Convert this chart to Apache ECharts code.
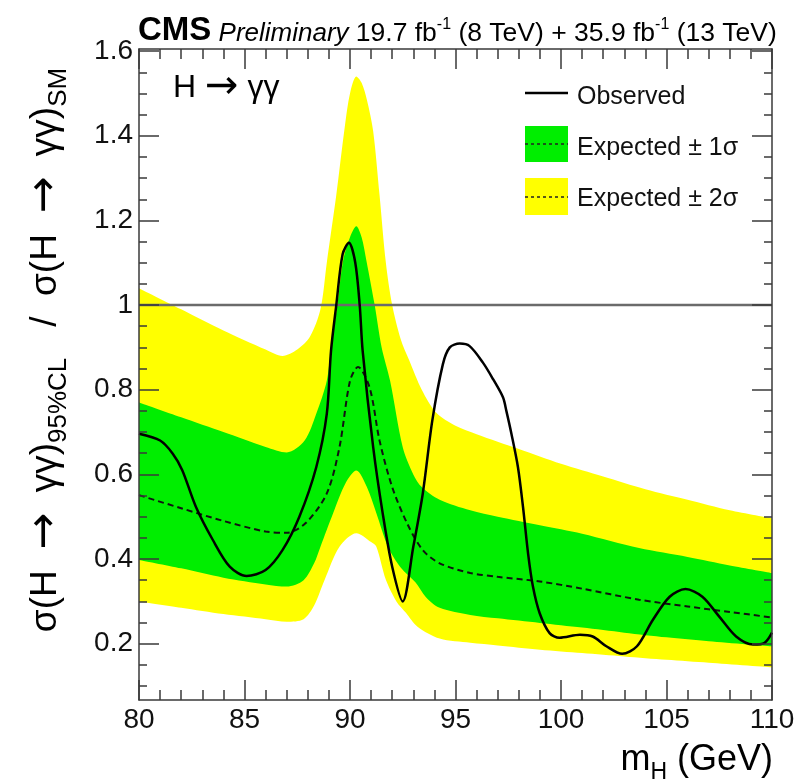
<!DOCTYPE html>
<html><head><meta charset="utf-8">
<script src="https://cdn.jsdelivr.net/npm/echarts@6/dist/echarts.min.js"></script>
<style>html,body{margin:0;padding:0;background:#fff}#c{width:798px;height:780px}</style>
</head><body><div id="c"></div>
<script>
// ---- tick labels ----
const xTickLabels = [80, 85, 90, 95, 100, 105, 110];
const yTickLabels = [0.2, 0.4, 0.6, 0.8, 1, 1.2, 1.4, 1.6];
const yMinorTickValues = [0.1, 0.15, 0.25, 0.3, 0.35, 0.45, 0.5, 0.55, 0.65, 0.7, 0.75, 0.85, 0.9, 0.95, 1.05, 1.1, 1.15, 1.25, 1.3, 1.35, 1.45, 1.5, 1.55];

// ---- observed limit ----
const obsMass = [80, 81, 81.6, 82.05, 82.7, 83.5, 84.3, 85.1, 86.0, 86.8, 87.6, 88.4, 88.9, 89.1, 89.35, 89.65, 89.95, 90.25, 90.46, 90.6, 91.1, 91.55, 92.0, 92.5, 93.0, 93.45, 93.9, 94.4, 94.73, 95.2, 95.67, 96.3, 96.78, 97.25, 97.41, 97.65, 97.96, 98.2, 98.44, 98.67, 98.99, 99.46, 99.93, 100.9, 101.5, 102.15, 102.9, 103.6, 104.35, 105.15, 105.9, 106.7, 107.5, 108.3, 109.1, 109.65, 110];
const obsLimit = [0.696, 0.68, 0.649, 0.61, 0.523, 0.445, 0.382, 0.36, 0.374, 0.421, 0.50, 0.617, 0.743, 0.892, 1.0, 1.12, 1.147, 1.10, 1.0, 0.892, 0.664, 0.508, 0.382, 0.30, 0.429, 0.555, 0.727, 0.86, 0.90, 0.909, 0.903, 0.864, 0.825, 0.782, 0.75, 0.696, 0.617, 0.523, 0.413, 0.335, 0.272, 0.225, 0.214, 0.221, 0.217, 0.194, 0.176, 0.194, 0.256, 0.311, 0.329, 0.311, 0.264, 0.217, 0.198, 0.202, 0.226];

// ---- expected (median) ----
const expMass = [80, 82, 84, 86, 87, 87.9, 88.9, 89.5, 90.0, 90.38, 90.93, 91.4, 92.0, 92.7, 93.45, 94.25, 95.7, 97, 99, 101, 103.7, 106, 108, 110];
const expLimit = [0.551, 0.52, 0.49, 0.465, 0.462, 0.485, 0.555, 0.664, 0.821, 0.854, 0.805, 0.68, 0.57, 0.485, 0.421, 0.39, 0.367, 0.358, 0.347, 0.33, 0.304, 0.288, 0.275, 0.262];

// ---- +2 sigma edge ----
const up2Mass = [80, 82, 84, 86, 86.8, 87.5, 88.1, 88.6, 88.9, 89.35, 89.75, 90.0, 90.3, 90.55, 90.8, 91.1, 91.4, 91.7, 92.0, 92.4, 92.8, 93.4, 94.1, 95, 96, 98, 100, 102, 104, 106, 108, 110];
const up2Vals = [1.04, 0.99, 0.94, 0.895, 0.88, 0.895, 0.925, 0.99, 1.10, 1.26, 1.42, 1.50, 1.54, 1.525, 1.485, 1.41, 1.26, 1.10, 1.0, 0.92, 0.87, 0.80, 0.745, 0.715, 0.695, 0.66, 0.625, 0.595, 0.565, 0.54, 0.515, 0.496];

// ---- +1 sigma edge ----
const up1Mass = [80, 82, 84, 86, 87, 87.85, 88.4, 88.9, 89.1, 89.4, 89.67, 90.0, 90.3, 90.55, 90.78, 91.17, 91.5, 91.9, 92.5, 93.0, 93.4, 94.25, 95.7, 97, 99, 101, 103.7, 106, 108, 110];
const up1Vals = [0.77, 0.735, 0.70, 0.665, 0.652, 0.68, 0.743, 0.821, 0.90, 1.0, 1.104, 1.16, 1.186, 1.16, 1.104, 1.0, 0.90, 0.821, 0.664, 0.60, 0.57, 0.54, 0.515, 0.50, 0.48, 0.46, 0.426, 0.405, 0.385, 0.367];

// ---- -1 sigma edge ----
const lo1Mass = [80, 82, 84, 86, 87, 87.8, 88.3, 88.6, 89.2, 89.8, 90.3, 90.8, 91.25, 91.8, 92.4, 93.1, 93.6, 94.25, 95.7, 97, 99, 101, 103, 105, 107, 110];
const lo1Vals = [0.398, 0.378, 0.356, 0.34, 0.335, 0.35, 0.39, 0.429, 0.508, 0.58, 0.609, 0.57, 0.508, 0.429, 0.38, 0.345, 0.31, 0.285, 0.268, 0.26, 0.249, 0.238, 0.226, 0.215, 0.206, 0.194];

// ---- -2 sigma edge ----
const lo2Mass = [80, 82, 84, 86, 87, 87.8, 88.3, 88.8, 89.5, 90.3, 91.0, 91.25, 91.7, 92.2, 92.65, 93.2, 94.25, 95.7, 97, 99, 101, 103, 105, 107, 110];
const lo2Vals = [0.30, 0.285, 0.27, 0.258, 0.252, 0.258, 0.29, 0.351, 0.429, 0.461, 0.44, 0.429, 0.351, 0.30, 0.273, 0.24, 0.212, 0.202, 0.196, 0.186, 0.178, 0.17, 0.162, 0.155, 0.144];

const refMass = [80, 110];
const refVals = [1, 1];

const zip = (a, b) => a.map((v, i) => [v, b[i]]);
const FONT = "'Liberation Sans', Arial, Helvetica, sans-serif";
const ARROWFONT = "'DejaVu Sans', sans-serif";
const YELLOW = '#ffff00';
const GREEN = '#00ee00';
const FRAME = '#3a3a3a';

const chart = echarts.init(document.getElementById('c'), null, {renderer: 'canvas'});

function xAx(pos, showLabel) {
  return {
    type: 'value', min: 80, max: 110, interval: 5, position: pos, z: 10,
    axisLine: {show: true, lineStyle: {color: FRAME, width: 1.5}},
    axisTick: {show: true, inside: true, length: 20, lineStyle: {color: FRAME, width: 1.5}},
    minorTick: {show: true, splitNumber: 5, length: 10, lineStyle: {color: FRAME, width: 1.5}},
    axisLabel: {show: showLabel, fontSize: 28, margin: 6, color: '#111', fontFamily: FONT},
    splitLine: {show: false}, minorSplitLine: {show: false}
  };
}
function yAx(pos, major, showLabel, showLine) {
  return {
    type: 'value', min: 0.067, max: 1.605, position: pos, offset: 0, z: 10,
    axisLine: {show: showLine, lineStyle: {color: FRAME, width: 1.5}},
    axisTick: {show: true, inside: true, length: major ? 20 : 8,
      customValues: major ? yTickLabels : yMinorTickValues,
      lineStyle: {color: FRAME, width: 1.5}},
    axisLabel: {show: showLabel, customValues: yTickLabels, fontSize: 28, margin: 6, color: '#111', fontFamily: FONT},
    splitLine: {show: false}
  };
}

function areaSeries(name, data, color) {
  return {
    name: name, type: 'line', data: data, smooth: 0.3, symbol: 'none', silent: true,
    lineStyle: {width: 0}, areaStyle: {color: color, opacity: 1, origin: 'start'},
    xAxisIndex: 0, yAxisIndex: 0
  };
}

const option = {
  animation: false,
  backgroundColor: '#fff',
  grid: {left: 139, right: 26, top: 49, bottom: 80, containLabel: false},
  xAxis: [xAx('bottom', true), xAx('top', false)],
  yAxis: [yAx('left', true, true, true), yAx('left', false, false, false),
          yAx('right', true, false, true), yAx('right', false, false, false)],
  series: [
    areaSeries('up2', zip(up2Mass, up2Vals), YELLOW),
    areaSeries('up1', zip(up1Mass, up1Vals), GREEN),
    areaSeries('lo1', zip(lo1Mass, lo1Vals), YELLOW),
    areaSeries('lo2', zip(lo2Mass, lo2Vals), '#ffffff'),
    {name: 'SM', type: 'line', data: zip(refMass, refVals), symbol: 'none',
     lineStyle: {color: '#6b6b6b', width: 2.5}},
    {name: 'Expected', type: 'line', data: zip(expMass, expLimit), smooth: 0.3, symbol: 'none',
     lineStyle: {color: '#111', width: 2, type: [6, 4]}},
    {name: 'Observed', type: 'line', data: zip(obsMass, obsLimit), smooth: 0.3, symbol: 'none',
     lineStyle: {color: '#000', width: 2.5}}
  ],
  graphic: [
    // header
    {type: 'text', x: 138, y: 47, z: 100, style: {
      text: '{cms|CMS} {pre|Preliminary} {n|19.7 fb}{sup|-1}{n| (8 TeV) + 35.9 fb}{sup|-1}{n| (13 TeV)}',
      fontFamily: FONT, fontSize: 26, verticalAlign: 'bottom', align: 'left', fill: '#000',
      rich: {
        cms: {fontFamily: FONT, fontSize: 33, fontWeight: 'bold', verticalAlign: 'bottom'},
        pre: {fontFamily: FONT, fontSize: 26, fontStyle: 'italic', verticalAlign: 'bottom'},
        n: {fontFamily: FONT, fontSize: 26.5, verticalAlign: 'bottom'},
        sup: {fontFamily: FONT, fontSize: 16, verticalAlign: 'bottom', padding: [0, 0, 14, 0]}
      }}},
    // H -> gamma gamma label
    {type: 'text', x: 173, y: 88, z: 100, style: {
      text: '{m|H }{a|→}{m| γγ}', fontFamily: FONT, fontSize: 32, fill: '#000', align: 'left', verticalAlign: 'middle',
      rich: {
        m: {fontFamily: FONT, fontSize: 32, lineHeight: 44, verticalAlign: 'middle'},
        a: {fontFamily: ARROWFONT, fontSize: 40, lineHeight: 44, verticalAlign: 'middle'}
      }}},
    // y axis title
    {type: 'text', x: 46, y: 350, rotation: Math.PI / 2, z: 100, style: {
      text: '{m|σ(H  }{a|→}{m|  γγ)}{s|95%CL}{m|   /  σ(H  }{a|→}{m|  γγ)}{s|SM}',
      fontFamily: FONT, fontSize: 37, align: 'center', verticalAlign: 'middle', fill: '#000',
      rich: {
        m: {fontFamily: FONT, fontSize: 37, lineHeight: 52, verticalAlign: 'middle'},
        a: {fontFamily: ARROWFONT, fontSize: 44, lineHeight: 52, verticalAlign: 'middle'},
        s: {fontFamily: FONT, fontSize: 26, verticalAlign: 'bottom'}
      }}},
    // x axis title
    {type: 'text', x: 773, y: 760, z: 100, style: {
      text: '{m|m}{s|H}{m| (GeV)}', fontFamily: FONT, fontSize: 36, align: 'right', verticalAlign: 'middle', fill: '#000',
      rich: {
        m: {fontFamily: FONT, fontSize: 36, lineHeight: 48, verticalAlign: 'middle'},
        s: {fontFamily: FONT, fontSize: 23, verticalAlign: 'bottom'}
      }}},
    // legend
    {type: 'line', z: 100, shape: {x1: 525, y1: 93, x2: 568, y2: 93}, style: {stroke: '#000', lineWidth: 2.5}},
    {type: 'text', x: 577, y: 97, z: 100, style: {text: 'Observed', fontFamily: FONT, fontSize: 25, fill: '#111', verticalAlign: 'middle'}},
    {type: 'rect', z: 100, shape: {x: 525, y: 126, width: 43, height: 36}, style: {fill: GREEN}},
    {type: 'line', z: 101, shape: {x1: 525, y1: 144, x2: 568, y2: 144}, style: {stroke: '#222', lineWidth: 1.5, lineDash: [3, 3]}},
    {type: 'text', x: 577, y: 148, z: 100, style: {text: 'Expected ± 1σ', fontFamily: FONT, fontSize: 25, fill: '#111', verticalAlign: 'middle'}},
    {type: 'rect', z: 100, shape: {x: 525, y: 178, width: 43, height: 37}, style: {fill: YELLOW}},
    {type: 'line', z: 101, shape: {x1: 525, y1: 197, x2: 568, y2: 197}, style: {stroke: '#222', lineWidth: 1.5, lineDash: [3, 3]}},
    {type: 'text', x: 577, y: 199, z: 100, style: {text: 'Expected ± 2σ', fontFamily: FONT, fontSize: 25, fill: '#111', verticalAlign: 'middle'}}
  ]
};
chart.setOption(option);
</script>
</body></html>
